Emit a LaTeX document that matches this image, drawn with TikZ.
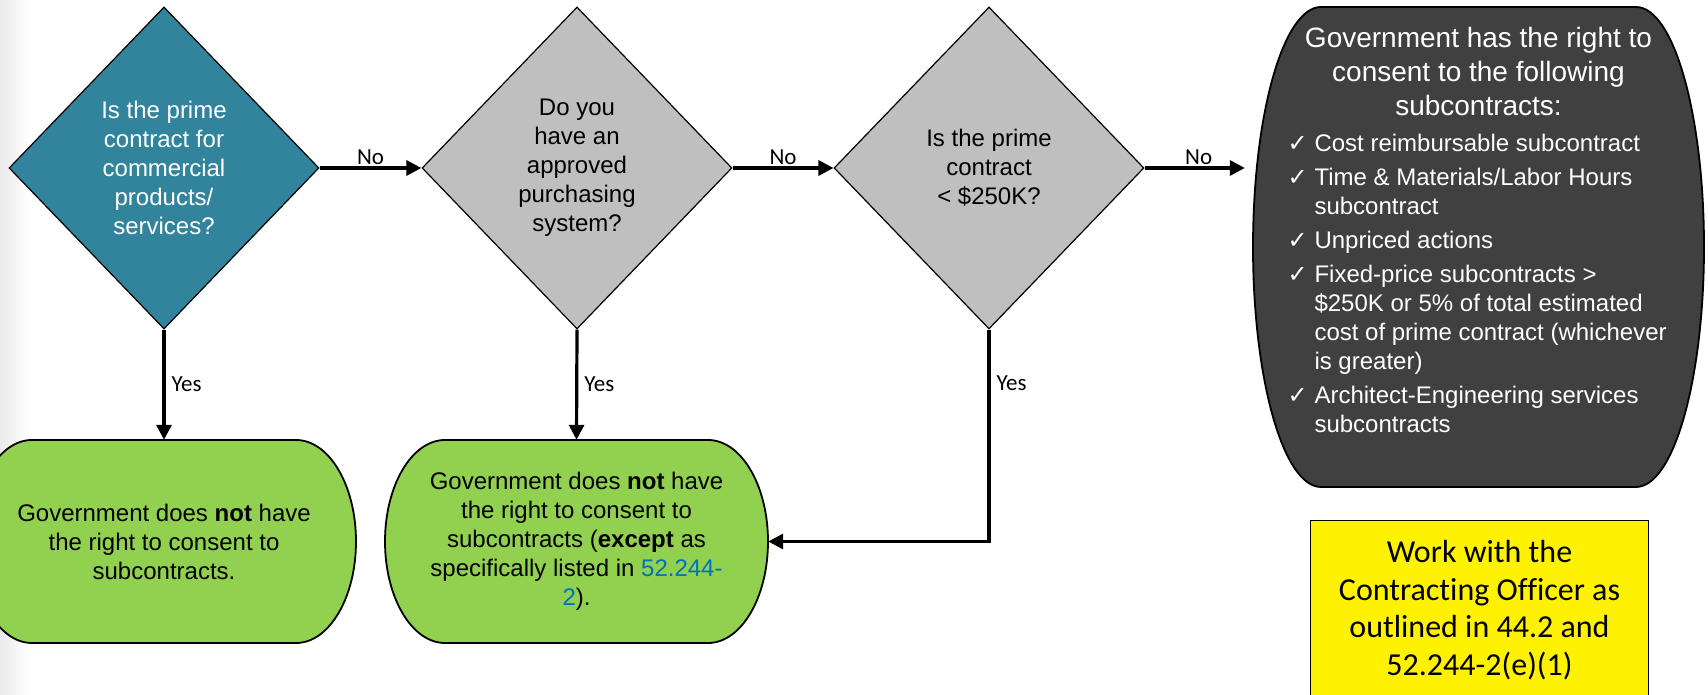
\documentclass[tikz,border=0pt]{standalone}
\usepackage{fontspec}
\setmainfont{Liberation Sans}
\newfontfamily\calibrifont[Ligatures=NoCommon]{Carlito}
\newfontfamily\dejavufont{DejaVu Sans}
\usetikzlibrary{shapes.geometric,arrows.meta,calc}
\definecolor{teal1}{HTML}{31849B}
\definecolor{gray1}{HTML}{BFBFBF}
\definecolor{dark1}{HTML}{404040}
\definecolor{green1}{HTML}{92D050}
\definecolor{link1}{HTML}{0070C0}
% #1 cx, #2 cy, #3 width, #4 height, #5 end x-radius, #6 fill
\newcommand\termshape[6]{%
  \path[termline, fill=#6] (#1-#3/2+#5, #2+#4/2) -- (#1+#3/2-#5, #2+#4/2)
    arc[start angle=90, end angle=-90, x radius={(#5)*1pt}, y radius={(#4)*0.5pt}]
    -- (#1-#3/2+#5, #2-#4/2)
    arc[start angle=270, end angle=90, x radius={(#5)*1pt}, y radius={(#4)*0.5pt}]
    -- cycle;}
\newcommand\bitem[1]{\par\noindent\hangindent=26pt\hangafter=1\makebox[26pt][l]{\hspace{-1pt}\dejavufont\fontsize{24}{24}\selectfont ✓}#1}
\begin{document}
\begin{tikzpicture}[x=1pt,y=1pt,
  decision/.style={diamond, draw=black, line width=1.2pt, minimum width=310pt,
    minimum height=322pt, inner sep=0pt, align=center, font=\fontsize{24}{29}\selectfont},
  termtext/.style={inner sep=0pt, align=center, font=\fontsize{24}{29}\selectfont},
  termline/.style={draw=black, line width=1.8pt},
  arr/.style={line width=3.2pt, -{Triangle[length=15pt,width=15pt]}},
  lab/.style={font=\calibrifont\fontsize{23}{27}\selectfont, inner sep=1.5pt}]
\useasboundingbox (0,0) rectangle (1708,695);
\clip (0,0) rectangle (1708,695);
\fill[white] (0,0) rectangle (1708,695);
\shade[left color=black!8, right color=white] (0,0) rectangle (30,695);

% decisions
\node[decision, fill=teal1, text=white] (d1) at (164,527)
  {Is the prime\\contract for\\commercial\\products/\\services?};
\node[decision, fill=gray1] (d2) at (577,527)
  {Do you\\have an\\approved\\purchasing\\system?};
\node[decision, fill=gray1] (d3) at (989,527)
  {Is the prime\\contract\\< \$250K?};

% terminators
\termshape{164}{153.5}{384}{203}{60}{green1}
\node[termtext, minimum width=384pt, minimum height=203pt] (g1) at (164,153.5)
  {Government does \textbf{not} have\\the right to consent to\\subcontracts.};
\termshape{576.5}{153.5}{383}{203}{60}{green1}
\node[termtext, minimum width=383pt, minimum height=203pt] (g2) at (576.5,153.5)
  {Government does \textbf{not} have\\the right to consent to\\subcontracts (\textbf{except} as\\specifically listed in \textcolor{link1}{52.244-}\\\textcolor{link1}{2}).};
\termshape{1478.5}{448}{451}{480}{68}{dark1}
\node[inner sep=0pt, minimum width=451pt, minimum height=480pt, text=white] (gov) at (1478.5,448)
  {\parbox[c][440pt][t]{380pt}{\hyphenpenalty=10000\exhyphenpenalty=10000
   \centering\fontsize{28}{34}\selectfont
   Government has the right to\\consent to the following\\subcontracts:\par
   \vspace{2pt}\raggedright\fontsize{24}{29}\selectfont\parskip=5pt
   \bitem{Cost reimbursable subcontract}
   \bitem{Time \& Materials/Labor Hours subcontract}
   \bitem{Unpriced actions}
   \bitem{Fixed-price subcontracts > \$250K or 5\% of total estimated cost of prime contract (whichever is greater)}
   \bitem{Architect-Engineering services subcontracts}\par}};

% yellow note
\node[fill=yellow, inner sep=0pt, minimum width=337pt, minimum height=178pt, align=center,
  font=\calibrifont\fontsize{32}{37.5}\selectfont] (work) at (1479.5,85)
  {Work with the\\Contracting Officer as\\outlined in 44.2 and\\52.244-2(e)(1)};
\draw[line width=1pt] (work.south west) -- (work.north west) -- (work.north east) -- (work.south east);

% connectors
\draw[arr] (d1.east) -- node[lab, above]{No} (d2.west);
\draw[arr] (d2.east) -- node[lab, above]{No} (d3.west);
\draw[arr, shorten >=8pt] (d3.east) -- node[lab, above]{No} (d3.east -| gov.west);
\draw[arr] (d1.south) -- node[lab, right=4.5pt]{Yes} (g1.north);
\draw[arr] (d2.south) -- node[lab, right=4.5pt]{Yes} (g2.north);
\draw[arr] (d3.south) |- node[lab, right=4.5pt, pos=0.127]{Yes} (g2.east);
\end{tikzpicture}
\end{document}
